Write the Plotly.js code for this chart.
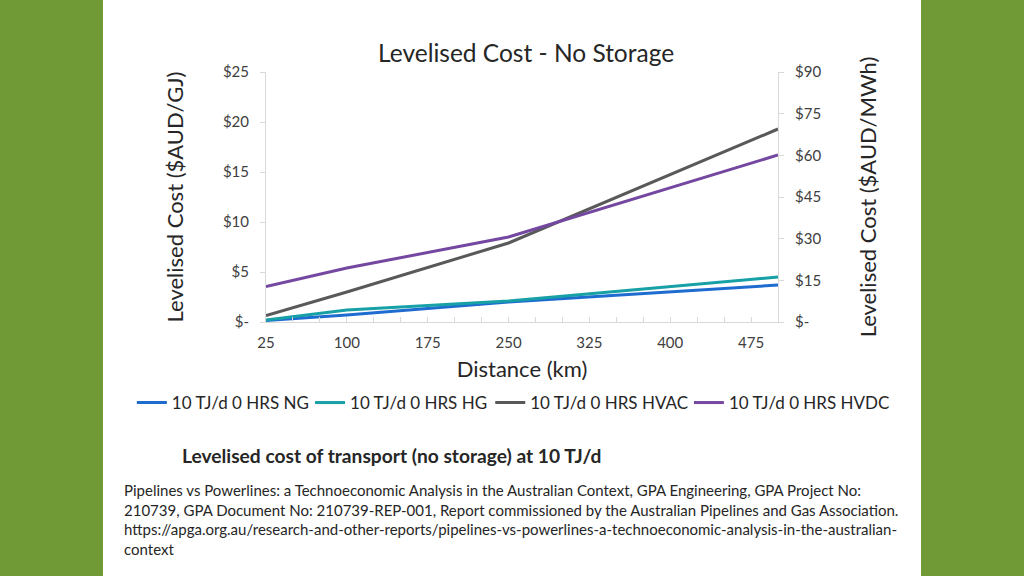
<!DOCTYPE html>
<html><head><meta charset="utf-8">
<script src="https://cdn.plot.ly/plotly-3.0.1.min.js"></script>
<style>
html,body{margin:0;padding:0;width:1024px;height:576px;background:#6f9a36;overflow:hidden;}
#chart{position:absolute;left:103px;top:0;width:818px;height:576px;background:#fff;}
</style></head>
<body><div id="chart"></div>
<script>
// Distance (km)
const distance = [25, 100, 250, 500];
// Levelised cost ($AUD/GJ)
const ngCost   = [0.15, 0.7, 2.0, 3.7];
const hgCost   = [0.2, 1.2, 2.1, 4.5];
const hvacCost = [0.65, 3.0, 7.9, 19.3];
const hvdcCost = [3.55, 5.4, 8.5, 16.7];
const seriesNames = ["10 TJ/d 0 HRS NG", "10 TJ/d 0 HRS HG", "10 TJ/d 0 HRS HVAC", "10 TJ/d 0 HRS HVDC"];
const xTicks = [25, 100, 175, 250, 325, 400, 475];
const yTicks = [0, 5, 10, 15, 20, 25];
const yTickText = ["$-", "$5", "$10", "$15", "$20", "$25"];
const y2Ticks = [0, 15, 30, 45, 60, 75, 90];
const y2TickText = ["$-", "$15", "$30", "$45", "$60", "$75", "$90"];

const colors = ["#1f6cd1", "#17a0a6", "#595959", "#7448a0"];
const series = [ngCost, hgCost, hvacCost, hvdcCost];
const legendIds = ["legend", "legend2", "legend3", "legend4"];
const legendX = [-0.262, 0.086, 0.438, 0.826];
const FONT = "Lato, 'Open Sans', sans-serif";

const data = series.map((s, i) => ({
  type: "scatter", mode: "lines", x: distance, y: s, name: seriesNames[i],
  line: {color: colors[i], width: 3}, xaxis: "x", yaxis: "y", legend: legendIds[i]
}));
data.push({type: "scatter", mode: "lines", x: [], y: [], yaxis: "y2", showlegend: false, hoverinfo: "skip"});

const axisFont = {family: FONT, size: 15, color: "#404040"};
const titleFont = {family: FONT, size: 22, color: "#262626"};

const layout = {
  width: 818, height: 576,
  margin: {l: 163, r: 143, t: 72, b: 254},
  paper_bgcolor: "#ffffff", plot_bgcolor: "#ffffff",
  showlegend: true,
  title: {text: "Levelised Cost - No Storage", font: {family: FONT, size: 24.5, color: "#262626"},
          x: 0.508, xref: "paper", xanchor: "center", y: 1, yref: "paper", yanchor: "bottom", pad: {b: 10}},
  xaxis: {
    range: [25, 500], tickvals: xTicks, showgrid: false, zeroline: false,
    showline: true, linecolor: "#d9d9d9", linewidth: 1,
    ticks: "inside", ticklen: 5, tickcolor: "#d9d9d9",
    minor: {dtick: 25, tick0: 25, ticks: "inside", ticklen: 5, tickcolor: "#d9d9d9"},
    tickfont: axisFont, ticklabelstandoff: 7,
    title: {text: "Distance (km)", font: titleFont, standoff: 11}
  },
  yaxis: {
    range: [0, 25], tickvals: yTicks, ticktext: yTickText, showgrid: false, zeroline: false,
    showline: true, linecolor: "#d9d9d9", linewidth: 1,
    ticks: "outside", ticklen: 5, tickcolor: "#d9d9d9",
    tickfont: axisFont, ticklabelstandoff: 8,
    title: {text: "Levelised Cost ($AUD/GJ)", font: titleFont, standoff: 33}
  },
  yaxis2: {
    range: [0, 90], tickvals: y2Ticks, ticktext: y2TickText, overlaying: "y", side: "right",
    showgrid: false, zeroline: false, showline: true, linecolor: "#d9d9d9", linewidth: 1,
    ticks: "outside", ticklen: 5, tickcolor: "#d9d9d9",
    tickfont: axisFont, ticklabelstandoff: 8,
    title: {text: "Levelised Cost ($AUD/MWh)", font: titleFont, standoff: 40}
  },
  annotations: [
    {text: "<b>Levelised cost of transport (no storage) at 10 TJ/d</b>", xref: "paper", yref: "paper",
     x: -0.168, y: -0.532, xanchor: "left", yanchor: "middle", showarrow: false,
     font: {family: FONT, size: 19.2, color: "#262626"}},
    {text: "Pipelines vs Powerlines: a Technoeconomic Analysis in the Australian Context, GPA Engineering, GPA Project No:<br>210739, GPA Document No: 210739-REP-001, Report commissioned by the Australian Pipelines and Gas Association.<br>https://apga.org.au/research-and-other-reports/pipelines-vs-powerlines-a-technoeconomic-analysis-in-the-australian-<br>context",
     xref: "paper", yref: "paper", x: -0.281, y: -0.626, xanchor: "left", yanchor: "top", align: "left",
     showarrow: false, font: {family: FONT, size: 15, color: "#262626"}}
  ]
};
legendIds.forEach((id, i) => {
  layout[id] = {orientation: "h", x: legendX[i], xanchor: "left", y: -0.324, yanchor: "middle",
                font: {family: FONT, size: 17, color: "#262626"}, itemwidth: 30,
                bgcolor: "rgba(0,0,0,0)", borderwidth: 0};
});
Plotly.newPlot("chart", data, layout, {displayModeBar: false, staticPlot: true});
</script></body></html>
